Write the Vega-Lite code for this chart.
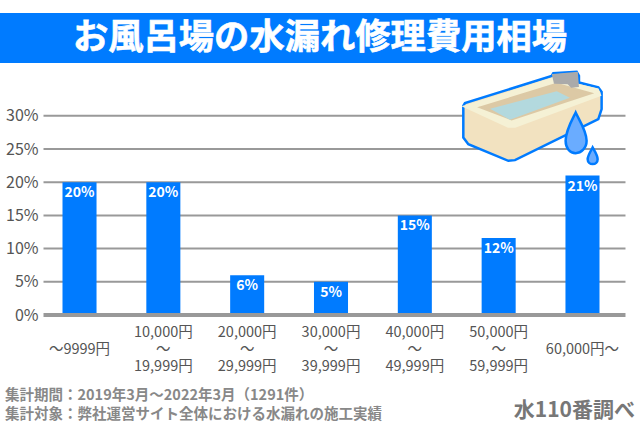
{
  "$schema": "https://vega.github.io/schema/vega-lite/v6.json",
  "padding": {"left": 0, "top": 13, "right": 0, "bottom": 0},
  "background": "white",
  "spacing": 0,
  "bounds": "flush",
  "config": {
    "view": {"stroke": null},
    "font": "Noto Sans CJK JP",
    "text": {"font": "Noto Sans CJK JP"}
  },
  "vconcat": [
    {
      "width": 640,
      "height": 50,
      "view": {"fill": "#007bff", "stroke": null},
      "data": {"values": [{"heading": "お風呂場の水漏れ修理費用相場"}]},
      "mark": {"type": "text", "color": "white", "stroke": "white", "strokeWidth": 0.6, "fontSize": 35.3, "fontWeight": "bold", "font": "Noto Sans CJK JP"},
      "encoding": {"text": {"field": "heading"}}
    },
    {
      "width": 640,
      "height": 317,
      "encoding": {
        "x": {
          "field": "range",
          "type": "nominal",
          "sort": null,
          "title": null,
          "scale": {
            "domain": ["〜9999円", "10,000円|〜|19,999円", "20,000円|〜|29,999円", "30,000円|〜|39,999円", "40,000円|〜|49,999円", "50,000円|〜|59,999円", "60,000円〜"],
            "range": [37.6, 624.4],
            "paddingInner": 0.594,
            "paddingOuter": 0.297
          },
          "axis": {
            "domain": false,
            "ticks": false,
            "grid": false,
            "offset": -65,
            "labelAngle": 0,
            "labelBaseline": "middle",
            "labelPadding": 17,
            "labelLineHeight": 17,
            "labelFontSize": 14.5,
            "labelColor": "#555555",
            "labelOverlap": false,
            "labelExpr": "indexof(datum.label, '|') < 0 ? ['', datum.label] : split(datum.label, '|')"
          }
        },
        "y": {
          "field": "share",
          "type": "quantitative",
          "title": null,
          "scale": {"domain": [0, 0.3], "nice": false, "range": [252, 52.8]},
          "axis": {
            "values": [0, 0.05, 0.1, 0.15, 0.2, 0.25, 0.3],
            "format": ".0%",
            "domain": false,
            "ticks": false,
            "grid": false,
            "offset": -43,
            "labelFontSize": 16,
            "labelColor": "#555555",
            "labelPadding": 5,
            "labelOverlap": false
          }
        }
      },
      "layer": [
        {
          "data": {"values": [{"share": 0.05}, {"share": 0.10}, {"share": 0.15}, {"share": 0.20}, {"share": 0.25}, {"share": 0.30}]},
          "mark": {"type": "rule", "color": "#999999", "strokeWidth": 2, "x2Offset": 43},
          "encoding": {
            "x": {"datum": "〜9999円"},
            "xOffset": {"value": -19},
            "x2": {"datum": "60,000円〜"}
          }
        },
        {
          "data": {
            "values": [
              {"range": "〜9999円", "share": 0.20},
              {"range": "10,000円|〜|19,999円", "share": 0.20},
              {"range": "20,000円|〜|29,999円", "share": 0.06},
              {"range": "30,000円|〜|39,999円", "share": 0.05},
              {"range": "40,000円|〜|49,999円", "share": 0.15},
              {"range": "50,000円|〜|59,999円", "share": 0.116},
              {"range": "60,000円〜", "share": 0.21}
            ]
          },
          "layer": [
            {"mark": {"type": "bar", "color": "#007bff"}},
            {
              "mark": {"type": "text", "color": "white", "fontSize": 14, "fontWeight": "bold", "baseline": "middle", "dy": 11, "font": "Noto Sans CJK JP"},
              "encoding": {"text": {"field": "share", "type": "quantitative", "format": ".0%"}}
            }
          ]
        },
        {
          "data": {"values": [{"share": 0}]},
          "mark": {"type": "rule", "color": "#999999", "strokeWidth": 4, "x2Offset": 43},
          "encoding": {
            "x": {"datum": "〜9999円"},
            "xOffset": {"value": -19},
            "x2": {"datum": "60,000円〜"}
          }
        },
        {
          "data": {
            "values": [
              {"part": "tub", "share": 0.30},
              {"part": "rim", "share": 0.30},
              {"part": "basin", "share": 0.30},
              {"part": "water", "share": 0.30},
              {"part": "faucet", "share": 0.30},
              {"part": "drop", "share": 0.30},
              {"part": "droplet", "share": 0.30}
            ]
          },
          "mark": {"type": "point", "filled": true, "opacity": 1, "strokeWidth": 2.5},
          "encoding": {
            "x": {"datum": "50,000円|〜|59,999円"},
            "xOffset": {"value": 50},
            "size": {"value": 22500},
            "shape": {
              "field": "part",
              "legend": null,
              "scale": {
                "domain": ["tub", "rim", "basin", "water", "faucet", "drop", "droplet"],
                "range": [
                  "M-.911 -.133L-.889 -.169L.267 -.533L.289 -.569L.6 -.587L.631 -.533L.631 -.444L.889 -.378L.933 -.32L.933 -.089L.889 .044L-.222 .591L-.311 .6L-.844 .378L-.911 .289Z",
                  "M-.89 -.124L.267 -.49L.88 -.35L.91 -.276L-.222 .142L-.311 .142Z",
                  "M-.676 -.111L.333 -.422L.778 -.298L-.267 .044Z",
                  "M-.511 -.089L.333 -.311L.467 -.244L-.289 .036Z",
                  "M.289 -.542L.6 -.569L.613 -.4L.533 -.391L.489 -.436L.311 -.444Z",
                  "M.587 -.044C.54 .05 .453 .2 .453 .333C.453 .43 .51 .498 .587 .498C.66 .498 .733 .43 .733 .333C.733 .2 .63 .05 .587 -.044Z",
                  "M.813 .422C.79 .47 .747 .53 .747 .578C.747 .62 .78 .644 .813 .644C.85 .644 .88 .62 .88 .578C.88 .53 .84 .47 .813 .422Z"
                ]
              }
            },
            "fill": {
              "field": "part",
              "legend": null,
              "scale": {
                "domain": ["tub", "rim", "basin", "water", "faucet", "drop", "droplet"],
                "range": ["#f2e2c0", "#f5f1d5", "#dcc9a5", "#b3d9de", "#aaaaaa", "#6aacff", "#6aacff"]
              }
            },
            "stroke": {
              "field": "part",
              "legend": null,
              "scale": {
                "domain": ["tub", "rim", "basin", "water", "faucet", "drop", "droplet"],
                "range": ["#007bff", "#f5f1d5", "#dcc9a5", "#b3d9de", "#aaaaaa", "#007bff", "#007bff"]
              }
            }
          }
        }
      ]
    },
    {
      "width": 640,
      "height": 47,
      "data": {
        "values": [
          {"side": "note", "line": 1, "content": "集計期間：2019年3月〜2022年3月（1291件）"},
          {"side": "note", "line": 2, "content": "集計対象：弊社運営サイト全体における水漏れの施工実績"},
          {"side": "source", "line": 2, "content": "水110番調べ"}
        ]
      },
      "encoding": {
        "x": {"field": "side", "type": "nominal", "axis": null, "scale": {"type": "point", "domain": ["note", "source"], "range": [5, 635], "padding": 0}},
        "y": {"field": "line", "type": "ordinal", "axis": null, "scale": {"type": "point", "domain": [1, 2], "range": [16, 35], "padding": 0}},
        "text": {"field": "content"}
      },
      "layer": [
        {
          "transform": [{"filter": "datum.side === 'note'"}],
          "mark": {"type": "text", "align": "left", "baseline": "middle", "fontSize": 14.5, "fontWeight": "bold", "color": "#888888", "font": "Noto Sans CJK JP"}
        },
        {
          "transform": [{"filter": "datum.side === 'source'"}],
          "mark": {"type": "text", "align": "right", "baseline": "middle", "fontSize": 21, "fontWeight": "bold", "color": "#777777", "dy": -4, "font": "Noto Sans CJK JP"}
        }
      ]
    }
  ]
}
